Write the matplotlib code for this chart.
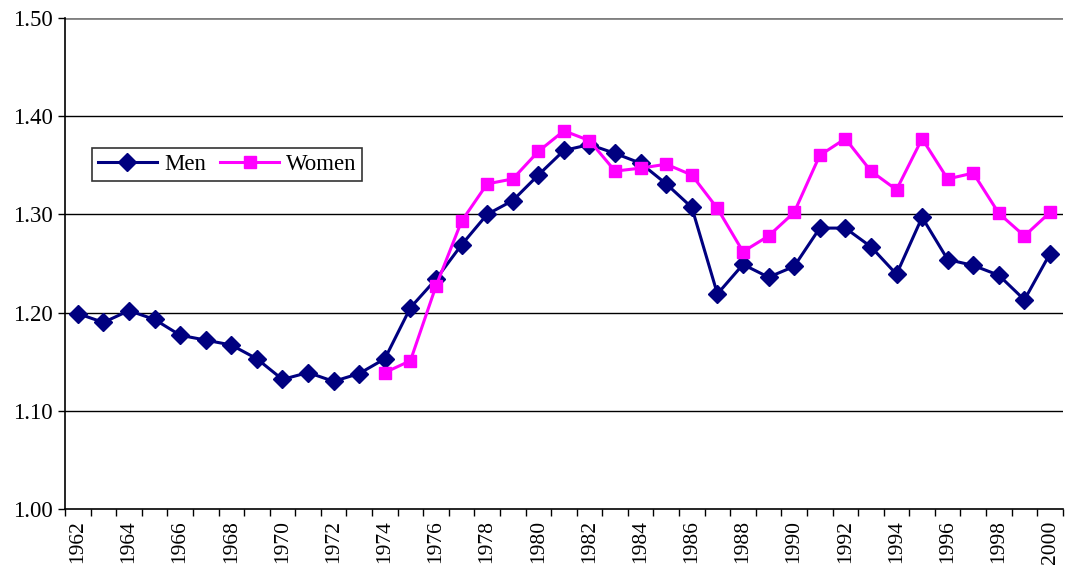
import numpy as np
import matplotlib.pyplot as plt

years = list(range(1962, 2001))

men = [1.199, 1.190, 1.202, 1.193, 1.177, 1.172, 1.167, 1.153, 1.132, 1.139,
       1.130, 1.138, 1.153, 1.205, 1.234, 1.269, 1.300, 1.314, 1.340, 1.365,
       1.371, 1.362, 1.352, 1.331, 1.307, 1.219, 1.249, 1.236, 1.247, 1.286,
       1.286, 1.267, 1.239, 1.297, 1.254, 1.248, 1.238, 1.213, 1.260]

women_years = list(range(1974, 2001))
women = [1.139, 1.151, 1.227, 1.293, 1.331, 1.336, 1.364, 1.385, 1.375, 1.344,
         1.347, 1.351, 1.340, 1.306, 1.262, 1.278, 1.302, 1.360, 1.377, 1.344,
         1.325, 1.377, 1.336, 1.342, 1.301, 1.278, 1.302]

plt.rcParams['font.family'] = ['Liberation Serif', 'DejaVu Serif']

fig = plt.figure(figsize=(10.66, 5.74), dpi=100)
ax = fig.add_axes([0.061, 0.113, 0.936, 0.856])

x_men = np.arange(len(years))
x_women = np.array([years.index(y) for y in women_years])

ax.plot(x_men, men, color='#000080', lw=2.2, marker='D', markersize=9.5,
        label='Men', zorder=3)
ax.plot(x_women, women, color='#FF00FF', lw=2.2, marker='s', markersize=9,
        label='Women', zorder=3)

ax.set_ylim(1.0, 1.5)
ax.set_xlim(-0.5, len(years) - 0.5)
ax.set_yticks(np.arange(1.0, 1.51, 0.1))
ax.set_yticklabels([f'{v:.2f}' for v in np.arange(1.0, 1.51, 0.1)], fontsize=16.5)

for v in np.arange(1.1, 1.45, 0.1):
    ax.axhline(v, color='black', lw=1, zorder=1)
ax.axhline(1.5, color='#808080', lw=2, zorder=1)

# tick marks sit between categories, labels every second year
ax.set_xticks(np.arange(-0.5, len(years), 1.0))
ax.set_xticklabels([])
ax.set_xticks(x_men[::2], minor=True)
ax.set_xticklabels([str(y) for y in years[::2]], minor=True, rotation=90,
                   fontsize=15.5)
ax.tick_params(axis='x', which='minor', length=0, pad=8)
ax.tick_params(axis='x', which='major', length=5, width=1, direction='out')
ax.tick_params(axis='y', length=5, width=1, direction='out', pad=4)

for s in ['top', 'right']:
    ax.spines[s].set_visible(False)
ax.spines['left'].set_linewidth(1.2)
ax.spines['bottom'].set_linewidth(1.2)

leg = ax.legend(loc='upper left', bbox_to_anchor=(0.027, 0.735), ncol=2,
                fontsize=16.5, frameon=True, fancybox=False, borderpad=0.25,
                handlelength=2.6, columnspacing=0.6, handletextpad=0.3,
                borderaxespad=0)
leg.get_frame().set_edgecolor('black')
leg.get_frame().set_linewidth(1.2)

plt.savefig('out.png', dpi=100)
